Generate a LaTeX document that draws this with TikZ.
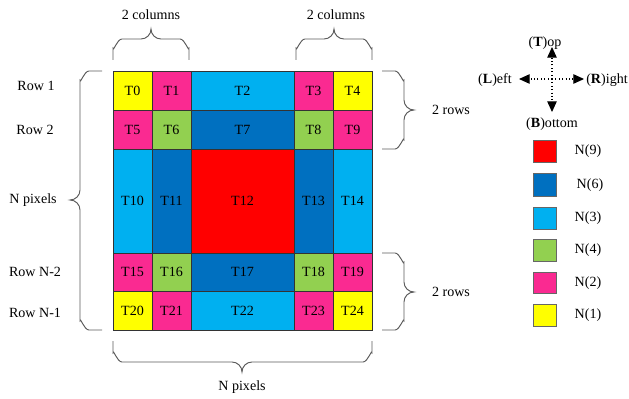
\documentclass[tikz,border=0pt]{standalone}
\usepackage{fontspec}
\setmainfont{Liberation Serif}
\usetikzlibrary{arrows.meta}
\definecolor{pinkc}{RGB}{250,42,145}
\definecolor{yelc}{RGB}{255,255,0}
\definecolor{lbluec}{RGB}{0,176,240}
\definecolor{dbluec}{RGB}{0,112,192}
\definecolor{greenc}{RGB}{146,208,80}
\definecolor{redc}{RGB}{255,0,0}
\definecolor{bracec}{RGB}{90,90,90}
\begin{document}
\begin{tikzpicture}[x=0.03cm,y=-0.03cm,font=\rmfamily\fontsize{12}{14}\selectfont,
    tile/.style={draw=black!80,line width=0.7pt},
    key/.style={draw=black!60,line width=0.7pt},
    brc/.style={draw=bracec,line width=0.8pt},
    dir/.style={dotted,line width=0.9pt,-{Triangle[length=9pt,width=8pt]}}]
  \useasboundingbox (0,0) rectangle (629,398);
  % tiles
  \draw[tile,fill=yelc] (113,71) rectangle (152,110) node[midway] (t0) {T0};
  \draw[tile,fill=pinkc] (152,71) rectangle (191,110) node[midway] (t1) {T1};
  \draw[tile,fill=lbluec] (191,71) rectangle (294,110) node[midway] (t2) {T2};
  \draw[tile,fill=pinkc] (294,71) rectangle (333,110) node[midway] (t3) {T3};
  \draw[tile,fill=yelc] (333,71) rectangle (372,110) node[midway] (t4) {T4};
  \draw[tile,fill=pinkc] (113,110) rectangle (152,149) node[midway] (t5) {T5};
  \draw[tile,fill=greenc] (152,110) rectangle (191,149) node[midway] (t6) {T6};
  \draw[tile,fill=dbluec] (191,110) rectangle (294,149) node[midway] (t7) {T7};
  \draw[tile,fill=greenc] (294,110) rectangle (333,149) node[midway] (t8) {T8};
  \draw[tile,fill=pinkc] (333,110) rectangle (372,149) node[midway] (t9) {T9};
  \draw[tile,fill=lbluec] (113,149) rectangle (152,253) node[midway] (t10) {T10};
  \draw[tile,fill=dbluec] (152,149) rectangle (191,253) node[midway] (t11) {T11};
  \draw[tile,fill=redc] (191,149) rectangle (294,253) node[midway] (t12) {T12};
  \draw[tile,fill=dbluec] (294,149) rectangle (333,253) node[midway] (t13) {T13};
  \draw[tile,fill=lbluec] (333,149) rectangle (372,253) node[midway] (t14) {T14};
  \draw[tile,fill=pinkc] (113,253) rectangle (152,291) node[midway] (t15) {T15};
  \draw[tile,fill=greenc] (152,253) rectangle (191,291) node[midway] (t16) {T16};
  \draw[tile,fill=dbluec] (191,253) rectangle (294,291) node[midway] (t17) {T17};
  \draw[tile,fill=greenc] (294,253) rectangle (333,291) node[midway] (t18) {T18};
  \draw[tile,fill=pinkc] (333,253) rectangle (372,291) node[midway] (t19) {T19};
  \draw[tile,fill=yelc] (113,291) rectangle (152,330) node[midway] (t20) {T20};
  \draw[tile,fill=pinkc] (152,291) rectangle (191,330) node[midway] (t21) {T21};
  \draw[tile,fill=lbluec] (191,291) rectangle (294,330) node[midway] (t22) {T22};
  \draw[tile,fill=pinkc] (294,291) rectangle (333,330) node[midway] (t23) {T23};
  \draw[tile,fill=yelc] (333,291) rectangle (372,330) node[midway] (t24) {T24};
  % braces
  \draw[brc] (113,60) -- (113,48) to[out=-90,in=180] (122,39) -- (141,39)
    to[out=0,in=-90] (151,29) to[out=-90,in=180] (161,39) -- (180,39)
    to[out=0,in=-90] (189,48) -- (189,60);
  \draw[brc] (296,60) -- (296,48) to[out=-90,in=180] (305,39) -- (324,39)
    to[out=0,in=-90] (334,29) to[out=-90,in=180] (344,39) -- (363,39)
    to[out=0,in=-90] (372,48) -- (372,60);
  \draw[brc] (102,71) -- (89,71) to[out=180,in=-90] (80,80) -- (80,190)
    to[out=-90,in=0] (70,200) to[out=0,in=90] (80,210) -- (80,321)
    to[out=90,in=180] (89,330) -- (102,330);
  \draw[brc] (382,71) -- (395,71) to[out=0,in=-90] (404,80) -- (404,100)
    to[out=-90,in=180] (414,110) to[out=180,in=90] (404,120) -- (404,140)
    to[out=90,in=0] (395,149) -- (382,149);
  \draw[brc] (382,253) -- (395,253) to[out=0,in=-90] (404,262) -- (404,282)
    to[out=-90,in=180] (414,292) to[out=180,in=90] (404,302) -- (404,321)
    to[out=90,in=0] (395,330) -- (382,330);
  \draw[brc] (113,341) -- (113,353) to[out=90,in=180] (122,362) -- (232,362)
    to[out=0,in=90] (242,372) to[out=90,in=180] (252,362) -- (363,362)
    to[out=0,in=90] (372,353) -- (372,341);
  % labels
  \node (colsl) at (151,15) {2 columns};
  \node (colsr) at (336,15) {2 columns};
  \node (rowsu) at (451,110) {2 rows};
  \node (rowsd) at (451,292) {2 rows};
  \node (npixl) at (33,200) {N pixels};
  \node (npixb) at (242,387) {N pixels};
  \node (row1) at (36,86) {Row 1};
  \node (row2) at (35,130) {Row 2};
  \node (rown2) at (35,272) {Row N-2};
  \node (rown1) at (35,313) {Row N-1};
  % directions
  \coordinate (ctr) at (552,79);
  \coordinate (up) at (552,47);
  \coordinate (dn) at (552,112);
  \coordinate (lt) at (519,79);
  \coordinate (rt) at (584,79);
  \draw[dir] (ctr) -- (up);
  \draw[dir] (ctr) -- (dn);
  \draw[dir] (ctr) -- (lt);
  \draw[dir] (ctr) -- (rt);
  \node (topl) at (545,43) {(\textbf{T})op};
  \node (botl) at (552,124) {(\textbf{B})ottom};
  \node (leftl) at (495,80) {(\textbf{L})eft};
  \node (rightl) at (607,80) {(\textbf{R})ight};
  % legend
  \draw[key,fill=redc] (533,140) rectangle (556,162);
  \draw[key,fill=dbluec] (533,173) rectangle (556,196);
  \draw[key,fill=lbluec] (533,207) rectangle (556,229);
  \draw[key,fill=greenc] (533,239) rectangle (556,261);
  \draw[key,fill=pinkc] (533,272) rectangle (556,293);
  \draw[key,fill=yelc] (533,304) rectangle (556,326);
  \node (n9) at (588,151) {N(9)};
  \node (n6) at (590,185) {N(6)};
  \node (n3) at (588,218) {N(3)};
  \node (n4) at (588,250) {N(4)};
  \node (n2) at (588,283) {N(2)};
  \node (n1) at (588,315) {N(1)};
\end{tikzpicture}
\end{document}
